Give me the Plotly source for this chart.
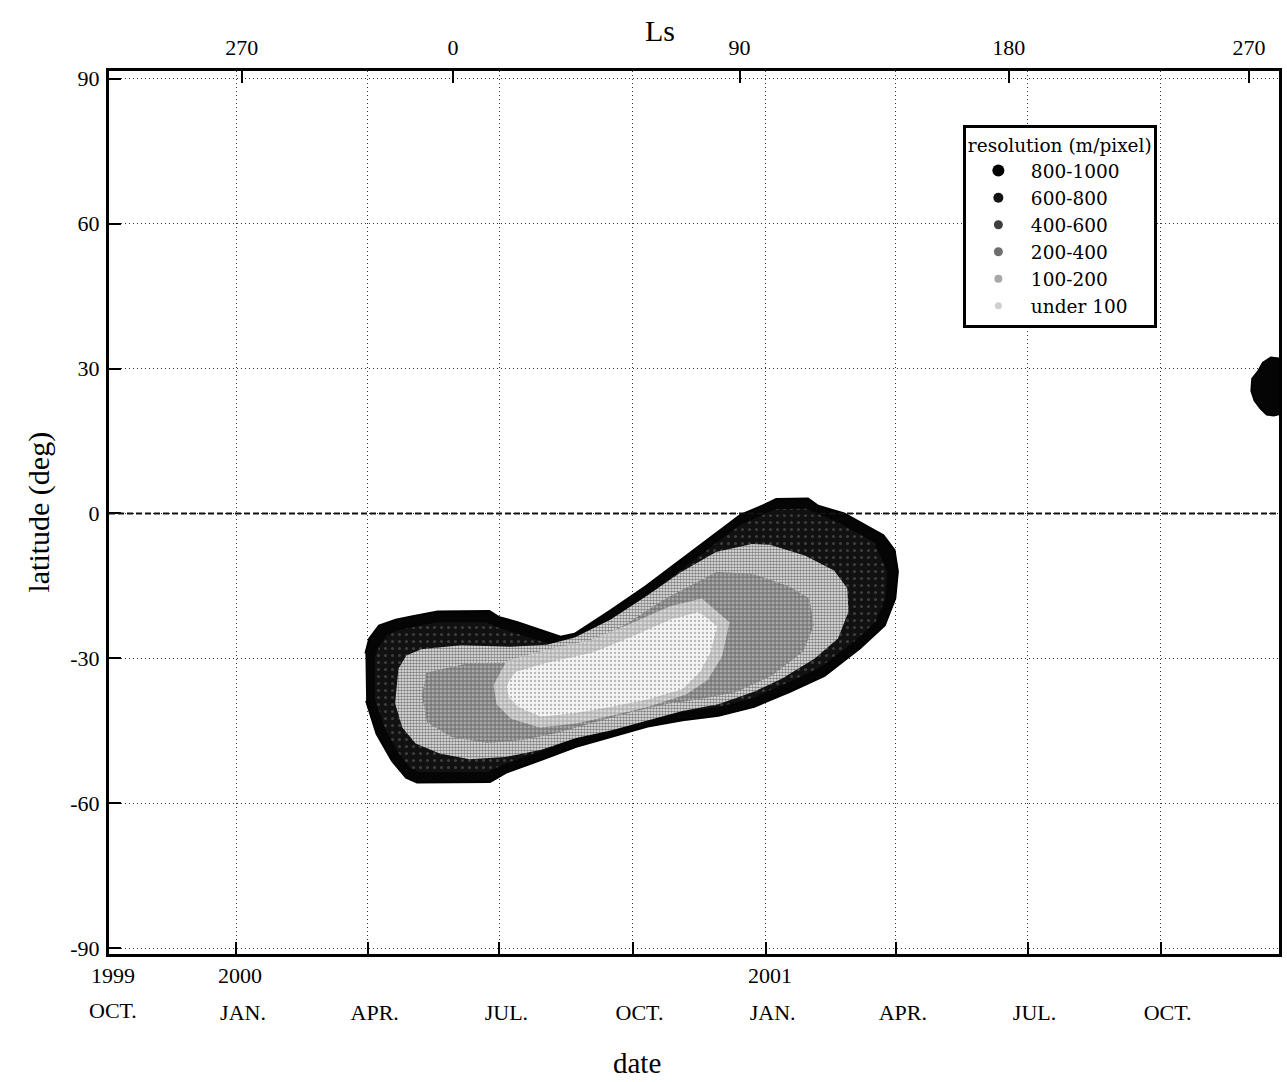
import plotly.graph_objects as go
import pandas as pd

EPOCH = pd.Timestamp("2000-01-01")

# ---- data: outlines of the resolution regions (days since 2000-01-01, latitude deg)
r800_days = [89.4, 92.0, 98.8, 110.4, 122.1, 139.3, 175.1, 181.4, 194.5, 209.8, 224.3, 234.0,
             258.6, 283.1, 307.0, 331.5, 348.6, 363.7, 373.3, 395.3, 402.3, 420.3, 434.9, 447.4,
             455.1, 457.4, 455.6, 448.3, 431.3, 406.7, 382.8, 358.1, 333.4, 308.6, 284.5, 259.8,
             235.1, 211.1, 186.4, 175.5, 125.1, 117.5, 107.7, 97.1, 89.9]
r800_lat = [-29.0, -25.9, -23.2, -22.0, -21.3, -20.3, -20.2, -21.4, -22.5, -24.1, -25.5, -24.9,
            -20.1, -15.1, -9.7, -4.1, -0.3, 1.6, 3.0, 3.1, 1.6, 0.0, -2.5, -4.5,
            -7.6, -12.0, -17.6, -23.2, -27.9, -33.6, -36.9, -40.0, -41.9, -42.8, -44.1, -46.2,
            -48.3, -51.0, -53.7, -55.6, -55.7, -54.7, -51.2, -45.6, -38.8]

r800b_days = [724.8, 715.2, 709.7, 706.3, 702.3, 701.7, 703.9, 708.1, 712.3, 717.1, 725.4]
r800b_lat = [31.9, 32.3, 31.2, 29.4, 27.9, 25.4, 23.4, 21.7, 20.5, 20.3, 20.9]

r600_days = [96, 99, 104, 112, 139, 173, 181, 209, 224, 235, 259, 283, 307, 331, 348, 373,
             394, 417, 441, 450, 449, 442, 426, 403, 380, 356, 333, 308, 284, 259, 235, 211,
             186, 174, 126, 120, 112, 103, 96]
r600_lat = [-29.5, -27.5, -25.3, -24.2, -22.5, -22.5, -23.6, -26.3, -27.7, -27.0, -22.3, -17.3,
            -11.9, -6.3, -2.5, 0.9, 1.0, -2.0, -6.0, -12.0, -17.3, -22.4, -26.8, -32.0, -35.2,
            -38.3, -40.1, -41.0, -42.3, -44.4, -46.5, -49.2, -51.8, -53.5, -53.5, -52.6, -49.5,
            -44.5, -38.5]

r400_days = [112.3, 117.7, 128.0, 155.5, 190.0, 214.8, 234.0, 258.6, 283.2, 307.1, 331.7, 356.5,
             368.9, 393.1, 413.3, 422.4, 423.3, 416.0, 399.7, 377.1, 357.9, 333.2, 308.5, 284.5,
             259.7, 235.0, 211.0, 186.2, 161.4, 140.7, 124.1, 114.9, 109.9]
r400_lat = [-32.1, -29.4, -28.1, -27.3, -27.6, -27.2, -25.7, -22.0, -17.2, -12.2, -8.0, -6.3,
            -6.5, -8.7, -11.8, -15.5, -20.3, -25.9, -30.1, -34.2, -36.9, -39.5, -40.9, -42.8,
            -44.9, -46.5, -48.9, -50.4, -50.9, -49.7, -47.6, -44.3, -39.3]

r200_days = [312.8, 331.9, 356.8, 381.7, 396.3, 399.3, 392.0, 370.2, 345.5, 320.8, 296.7, 272.0,
             247.3, 222.5, 198.5, 173.7, 148.8, 132.1, 128.4, 131.6, 160.5, 197.7, 224.5, 246.5,
             271.1, 295.7]
r200_lat = [-15.1, -12.1, -12.5, -15.0, -17.6, -23.2, -28.6, -33.6, -37.0, -38.4, -39.5, -41.2,
            -43.3, -45.4, -46.9, -47.5, -46.3, -43.3, -37.7, -32.9, -31.0, -30.9, -29.7, -26.7,
            -22.6, -17.8]

r100_days = [178, 187, 213, 245, 272, 300, 322, 341, 336, 326, 311, 285, 260, 235, 210, 190, 180]
r100_lat = [-35.5, -30.5, -28.3, -26.2, -22.9, -19.2, -17.6, -22.5, -29.5, -34.5, -37.5, -40.0,
            -41.8, -43.5, -44.3, -42.5, -39.5]

r0_days = [186.9, 193.0, 214.9, 246.6, 273.3, 300.7, 319.9, 332.5, 327.9, 320.5, 308.3, 284.2,
           259.5, 234.7, 210.7, 195.4, 188.4]
r0_lat = [-35.5, -32.8, -30.9, -28.8, -25.5, -21.9, -20.4, -23.3, -28.7, -32.9, -36.4, -38.5,
          -40.0, -41.3, -42.1, -40.1, -38.0]

classes = ["800-1000", "600-800", "400-600", "200-400", "100-200", "under 100"]

# ---- axes ticks
date_ticks = ["2000-01-01", "2000-04-01", "2000-07-01", "2000-10-01",
              "2001-01-01", "2001-04-01", "2001-07-01", "2001-10-01"]
month_labels = ["JAN.", "APR.", "JUL.", "OCT.", "JAN.", "APR.", "JUL.", "OCT."]
year_ticks = ["2000-01-01", "2001-01-01"]
year_labels = ["2000", "2001"]
first_year, first_month = "1999", "OCT."
ls_ticks = ["2000-01-05", "2000-05-30", "2000-12-14", "2001-06-18", "2001-12-01"]
ls_labels = ["270", "0", "90", "180", "270"]
lat_ticks = [-90, -60, -30, 0, 30, 60, 90]

X_RANGE = ["1999-10-05 04:48", "2001-12-21 19:12"]
Y_RANGE = [-91.2, 91.6]
FONT = "Liberation Serif"
LEG_FONT = "DejaVu Serif"


def to_dates(days):
    return [EPOCH + pd.Timedelta(days=d) for d in days]


fig = go.Figure()

regions = [
    (r800_days, r800_lat, dict(fillcolor="#050505", line=dict(color="#000", width=2))),
    (r800b_days, r800b_lat, dict(fillcolor="#050505", line=dict(color="#000", width=2))),
    (r600_days, r600_lat, dict(fillcolor="#161616", line=dict(width=0),
                               fillpattern=dict(shape=".", fgcolor="#6a6a6a", bgcolor="#111111",
                                                size=7, solidity=0.15))),
    (r400_days, r400_lat, dict(fillcolor="#d0d0d0", line=dict(width=0),
                               fillpattern=dict(shape=".", fgcolor="#111111", bgcolor="#eeeeee",
                                                size=3, solidity=0.55))),
    (r200_days, r200_lat, dict(fillcolor="#9a9a9a", line=dict(width=0),
                               fillpattern=dict(shape="+", fgcolor="#1e1e1e", bgcolor="#a8a8a8",
                                                size=4, solidity=0.4))),
    (r100_days, r100_lat, dict(fillcolor="#c8c8c8", line=dict(width=0),
                               fillpattern=dict(shape="+", fgcolor="#4a4a4a", bgcolor="#d8d8d8",
                                                size=4, solidity=0.3))),
    (r0_days, r0_lat, dict(fillcolor="#eeeeee", line=dict(width=0),
                           fillpattern=dict(shape=".", fgcolor="#7a7a7a", bgcolor="#f4f4f4",
                                            size=4, solidity=0.25))),
]
for days, lat, style in regions:
    fig.add_trace(go.Scatter(x=to_dates(days), y=lat, mode="lines", fill="toself",
                             showlegend=False, hoverinfo="skip", **style))

legend_marks = [
    (12, "#000000"), (10, "#141414"), (9, "#3e3e3e"),
    (9, "#6e6e6e"), (8, "#a8a8a8"), (7, "#d0d0d0"),
]
for name, (sz, col) in zip(classes, legend_marks):
    fig.add_trace(go.Scatter(x=[None], y=[None], mode="markers", name=name,
                             marker=dict(size=sz, color=col, symbol="circle")))

# invisible trace to anchor Ls axis
fig.add_trace(go.Scatter(x=[ls_ticks[0]], y=[None], xaxis="x2", showlegend=False,
                         hoverinfo="skip", mode="markers"))

fig.add_hline(y=0, line=dict(color="#111", width=2, dash="6px,3px"))

axis_common = dict(showline=True, linecolor="black", linewidth=3, ticks="inside",
                   ticklen=12, tickwidth=2, tickcolor="black",
                   tickfont=dict(family=FONT, size=22, color="black"))

fig.update_layout(
    width=1287, height=1082,
    margin=dict(l=109, r=5, t=71, b=128),
    paper_bgcolor="white", plot_bgcolor="white",
    font=dict(family=FONT, color="black"),
    xaxis=dict(type="date", range=X_RANGE, tickvals=date_ticks, ticktext=month_labels,
               showgrid=True, gridcolor="#333", griddash="1px,3px", gridwidth=1,
               zeroline=False, ticklabelstandoff=37, ticklabelshift=7, **axis_common),
    xaxis2=dict(type="date", range=X_RANGE, overlaying="x", side="top",
                tickvals=ls_ticks, ticktext=ls_labels, showgrid=False, zeroline=False,
                ticklabelstandoff=4, **axis_common),
    yaxis=dict(range=Y_RANGE, tickvals=lat_ticks, ticktext=[str(v) for v in lat_ticks],
               showgrid=True, gridcolor="#333", griddash="1px,3px", gridwidth=1,
               zeroline=False, mirror=True, ticklabelstandoff=2, **axis_common),
    legend=dict(x=0.7298, y=0.9388, xanchor="left", yanchor="top",
                bgcolor="white", bordercolor="black", borderwidth=3,
                font=dict(family=LEG_FONT, size=18.5, color="black"),
                title=dict(text="resolution (m/pixel)", font=dict(family=LEG_FONT, size=18.5)),
                tracegroupgap=0, itemwidth=55),
    showlegend=True,
)

ann_font = dict(family=FONT, size=22, color="black")
YEAR_Y = -0.0238
for xv, txt in zip(year_ticks, year_labels):
    fig.add_annotation(x=xv, y=YEAR_Y, xref="x", yref="paper", text=txt, showarrow=False,
                       xanchor="center", yanchor="middle", xshift=4, font=ann_font)
fig.add_annotation(x=0.003, y=YEAR_Y, xref="paper", yref="paper", text=first_year,
                   showarrow=False, xanchor="center", yanchor="middle", font=ann_font)
fig.add_annotation(x=0.003, y=-0.0645, xref="paper", yref="paper", text=first_month,
                   showarrow=False, xanchor="center", yanchor="middle", font=ann_font)

title_font = dict(family=FONT, size=30, color="black")
fig.add_annotation(x=0.4712, y=1.0464, xref="paper", yref="paper", text="Ls", showarrow=False,
                   xanchor="center", yanchor="middle", font=title_font)
fig.add_annotation(x=0.4510, y=-0.1235, xref="paper", yref="paper", text="date", showarrow=False,
                   xanchor="center", yanchor="middle", font=dict(family=FONT, size=29, color="black"))
fig.add_annotation(x=-0.0606, y=0.5, xref="paper", yref="paper", text="latitude (deg)",
                   showarrow=False, textangle=-90, xanchor="center", yanchor="middle",
                   font=title_font)

fig.write_html("out.html", config={"displayModeBar": False},
               post_script="document.body.style.margin='0';")
